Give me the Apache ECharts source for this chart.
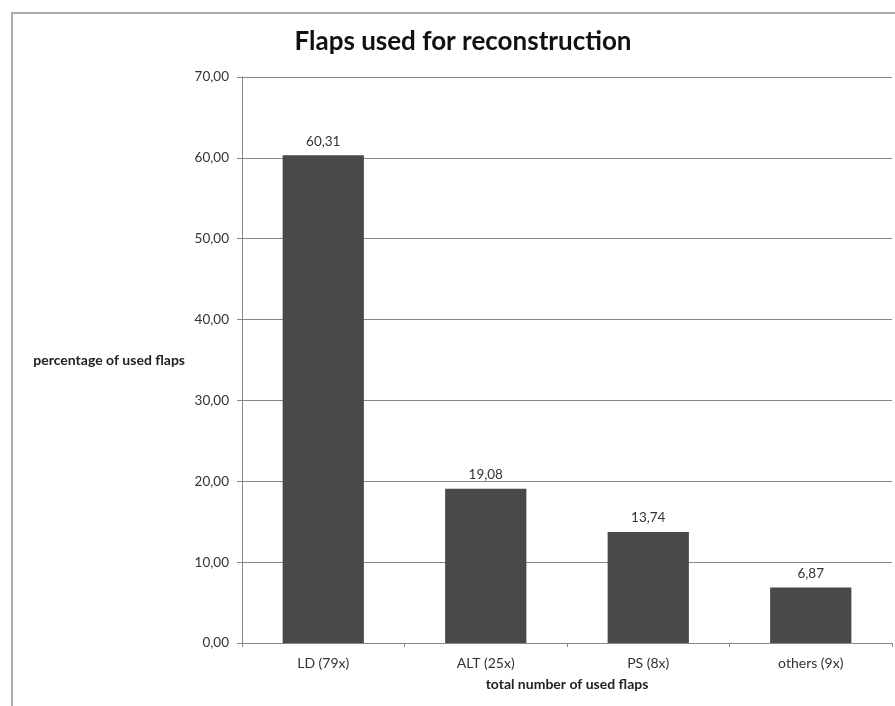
<!DOCTYPE html>
<html>
<head>
<meta charset="utf-8">
<script src="https://cdn.jsdelivr.net/npm/echarts@6/dist/echarts.min.js"></script>
<style>
html,body{margin:0;padding:0;background:#fff;}
#chart{width:895px;height:706px;}
</style>
</head>
<body>
<div id="chart"></div>
<script>
const categories = ['LD (79x)', 'ALT (25x)', 'PS (8x)', 'others (9x)'];
const percentages = [60.31, 19.08, 13.74, 6.87];
const yTicks = [0, 10, 20, 30, 40, 50, 60, 70];
const titleText = 'Flaps used for reconstruction';
const yName = 'percentage of used flaps';
const xName = 'total number of used flaps';

const fmt = v => v.toFixed(2).replace('.', ',');
const FONT = 'Lato';

const chart = echarts.init(document.getElementById('chart'));
chart.setOption({
  animation: false,
  backgroundColor: '#fff',
  title: {
    text: titleText,
    left: 458,
    top: 24,
    textAlign: 'center',
    textStyle: {fontFamily: FONT, fontSize: 26, fontWeight: 'bold', color: '#111'}
  },
  graphic: [{
    type: 'rect',
    shape: {x: 12, y: 13, width: 1000, height: 1000},
    style: {fill: 'none', stroke: '#aaa', lineWidth: 2},
    silent: true
  }],
  grid: {left: 242, right: 3, top: 77, bottom: 63, containLabel: false},
  xAxis: {
    type: 'category',
    data: categories,
    name: xName,
    nameLocation: 'middle',
    nameGap: 34,
    nameTextStyle: {fontFamily: FONT, fontSize: 14, fontWeight: 'bold', color: '#222'},
    axisLine: {lineStyle: {color: '#888', width: 1}},
    axisTick: {show: true, length: 4, lineStyle: {color: '#888'}},
    axisLabel: {fontFamily: FONT, fontSize: 14, color: '#333', margin: 13}
  },
  yAxis: {
    type: 'value',
    min: yTicks[0],
    max: yTicks[yTicks.length - 1],
    interval: 10,
    name: yName,
    nameLocation: 'middle',
    nameRotate: 0,
    nameGap: 57,
    nameTextStyle: {fontFamily: FONT, fontSize: 14, fontWeight: 'bold', color: '#222', align: 'right'},
    axisLine: {show: true, lineStyle: {color: '#888', width: 1}},
    axisTick: {show: true, length: 5, lineStyle: {color: '#888'}},
    axisLabel: {fontFamily: FONT, fontSize: 13.5, color: '#333', margin: 13, formatter: v => fmt(v)},
    splitLine: {show: true, lineStyle: {color: '#888', width: 1}}
  },
  series: [{
    type: 'bar',
    data: percentages,
    barWidth: '50%',
    itemStyle: {color: '#494949'},
    label: {
      show: true,
      position: 'top',
      distance: 7,
      fontFamily: FONT,
      fontSize: 13.5,
      color: '#333',
      formatter: p => fmt(p.value)
    }
  }]
});
</script>
</body>
</html>
